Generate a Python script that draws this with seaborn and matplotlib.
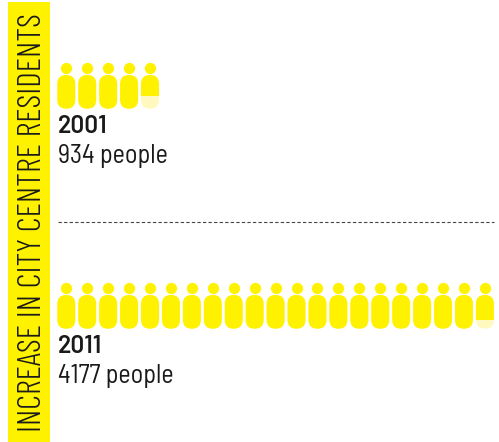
import matplotlib
matplotlib.use("Agg")
import matplotlib.pyplot as plt
from matplotlib.patches import FancyBboxPatch, Rectangle
import numpy as np
import pandas as pd
import seaborn as sns

years = ["2001", "2011"]
residents = [934, 4177]
people_per_icon = 201.5
title = "INCREASE IN CITY CENTRE RESIDENTS"

YELLOW = "#FFF200"
PALE = "#FFF9BF"
INK = "#1a1a1a"

sns.set_theme(style="white")
TITLE_FONT = ["Barlow Condensed", "Roboto", "DejaVu Sans"]
LABEL_FONT = ["Barlow Semi Condensed", "Roboto", "DejaVu Sans"]
YEAR_FONT = ["Barlow", "Roboto", "DejaVu Sans"]
plt.rcParams["font.family"] = LABEL_FONT

fig = plt.figure(figsize=(4.99, 4.42), dpi=100)
ax = fig.add_axes([0, 0, 1, 1])
ax.set_xlim(0, 499)
ax.set_ylim(442, 0)
ax.axis("off")

# Vertical title band
ax.add_patch(Rectangle((8, 2), 42, 440, color=YELLOW, lw=0))
ax.text(33.5, 432, title, rotation=90, ha="center", va="bottom", family=TITLE_FONT,
        fontweight=300, fontsize=24.1, color=INK)

# Pictogram geometry
step = 20.93
first_x = 66.3
body_w = 18.0
body_h = 33.7
head_offset = 7
rows_top = [75, 295]
text_base = [(133, 163), (353, 383)]

for year, total, top, (base_y, base_n) in zip(years, residents, rows_top, text_base):
    units = total / people_per_icon
    n_icons = int(np.ceil(units))
    xs = first_x + np.arange(n_icons) * step
    fills = np.clip(units - np.arange(n_icons), 0, 1)

    heads = pd.DataFrame({"x": xs, "y": top - head_offset})
    sns.scatterplot(data=heads, x="x", y="y", s=66, color=YELLOW,
                    linewidth=0, ax=ax, legend=False, zorder=3)

    for x, fill in zip(xs, fills):
        for colour, share in ((PALE, 1.0), (YELLOW, fill)):
            body = FancyBboxPatch((x - body_w / 2 + 8, top + 8), body_w - 16, body_h - 16,
                                  boxstyle="round,pad=8,rounding_size=8.9",
                                  facecolor=colour, edgecolor="none", zorder=3)
            ax.add_patch(body)
            if share < 1:
                clip = Rectangle((x - body_w, top - 1), 2 * body_w, 1 + body_h * share,
                                 transform=ax.transData)
                body.set_clip_path(clip)

    ax.text(58, base_y, year, family=YEAR_FONT, fontsize=17.5, fontweight=600,
            color=INK, va="baseline")
    ax.text(58, base_n, f"{total} people", fontsize=18.8, color=INK, va="baseline")

ax.plot([58, 494], [222, 222], color="#444444", lw=0.8, ls=(0, (3, 2)))
ax.set_xlabel("")
ax.set_ylabel("")
ax.set_xlim(0, 499)
ax.set_ylim(442, 0)

fig.savefig("out.png", dpi=100)
